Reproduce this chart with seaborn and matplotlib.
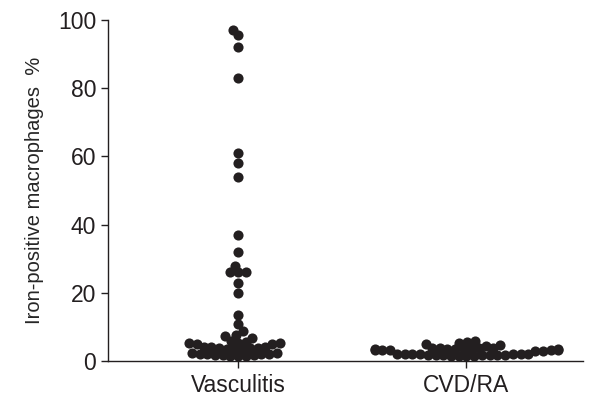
import numpy as np
import pandas as pd
import matplotlib
matplotlib.use("Agg")
from matplotlib import pyplot as plt
import seaborn as sns

groups = ["Vasculitis", "CVD/RA"]

# values (% iron-positive macrophages)
vasculitis = [97, 95.5, 92, 83, 61, 58, 54, 37, 32, 28, 26, 26, 26, 23, 20,
              13.5, 10.9, 8.8, 7.5, 7.2, 6.8,
              5.0, 5.1, 5.2, 5.3, 5.4, 5.6, 5.8,
              3.4, 3.5, 3.6, 3.7, 3.8, 3.9, 4.0, 4.1, 4.2,
              1.5, 1.6, 1.7, 1.8, 1.9, 2.0, 2.1, 2.2, 2.3, 2.4, 1.5, 2.0]
cvd_ra = [1.5, 1.6, 1.6, 1.7, 1.7, 1.8, 1.8, 1.9, 1.9, 2.0, 2.0, 2.1, 2.1,
          2.2, 2.2, 1.6, 1.8, 2.0,
          3.0, 3.1, 3.2, 3.2, 3.3, 3.3, 3.4, 3.4, 3.5, 3.5, 3.6, 3.6, 3.7,
          3.7, 3.8, 3.8, 3.0,
          4.5, 4.8, 5.0, 5.3, 5.6, 6.0]

df = pd.DataFrame({
    "group": [groups[0]] * len(vasculitis) + [groups[1]] * len(cvd_ra),
    "value": vasculitis + cvd_ra,
})

sns.set_style("ticks")
plt.rcParams["font.family"] = ["Liberation Sans", "DejaVu Sans"]
ink = "#231f20"

fig = plt.figure(figsize=(6.05, 4.04), dpi=100)
ax = fig.add_axes([0.1785, 0.1064, 0.785, 0.8441])

# lay the swarm out with a small marker, then draw bigger dots so they overlap
sns.swarmplot(data=df, x="group", y="value", order=groups, color=ink,
              size=5.3, ax=ax, clip_on=False, warn_thresh=1)

ax.set_xlim(-0.57, 1.51)
ax.set_ylim(0, 100)
ax.set_yticks([0, 20, 40, 60, 80, 100])
ax.set_xlabel("")
ax.set_ylabel("Iron-positive macrophages  %", fontsize=14.5, labelpad=10)
ax.tick_params(axis="both", labelsize=16.5, length=5, width=1, color=ink,
               labelcolor=ink)
ax.tick_params(axis="x", pad=4)
for s in ["top", "right"]:
    ax.spines[s].set_visible(False)
for s in ["left", "bottom"]:
    ax.spines[s].set_linewidth(1)
    ax.spines[s].set_color(ink)

fig.canvas.draw()
for coll in ax.collections:
    coll.draw = type(coll).draw.__get__(coll)
    coll.set_sizes([7.3 ** 2])

fig.savefig("out.png", dpi=100)
